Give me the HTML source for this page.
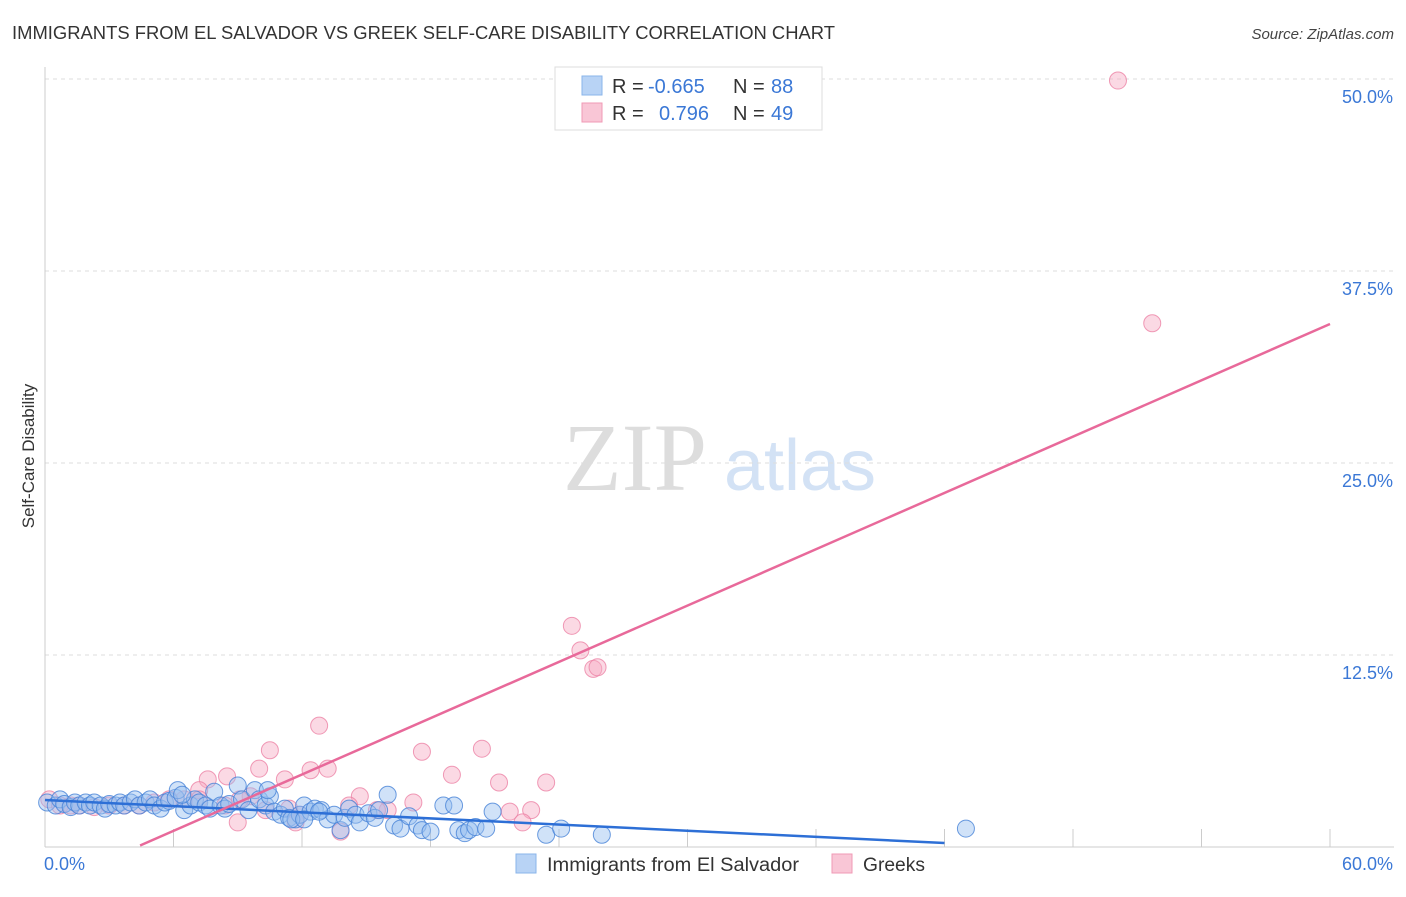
<!DOCTYPE html>
<html><head><meta charset="utf-8">
<style>
body{margin:0;background:#fff;font-family:"Liberation Sans",sans-serif;}
svg text{font-family:"Liberation Sans",sans-serif;}
</style></head>
<body>
<svg id="chart" width="1406" height="892" xmlns="http://www.w3.org/2000/svg">
<text x="12" y="39" font-size="18" fill="#333" textLength="823" lengthAdjust="spacingAndGlyphs">IMMIGRANTS FROM EL SALVADOR VS GREEK SELF-CARE DISABILITY CORRELATION CHART</text>
<text x="1394" y="39" font-size="15" fill="#444" font-style="italic" text-anchor="end">Source: ZipAtlas.com</text>
<g>
<text x="635" y="490" font-size="96" fill="#ddd" text-anchor="middle" style="font-family:'Liberation Serif',serif">ZIP</text>
<text x="800" y="490" font-size="72" fill="#d3e2f5" text-anchor="middle">atlas</text>
</g>
<g id="grid"></g>
<g id="axes"></g>
<g id="pts"></g>
<g id="lines"></g>
<text transform="translate(34,456) rotate(-90)" font-size="17" fill="#333" text-anchor="middle">Self-Care Disability</text>
<g>
<rect x="555" y="67" width="267" height="63" fill="#fff" stroke="#ddd"/>
<rect x="582" y="76" width="20" height="19" fill="#b8d3f5" stroke="#8ab4ea"/>
<rect x="582" y="103" width="20" height="19" fill="#f9c6d6" stroke="#f09ab5"/>
<text x="612" y="93" font-size="20" fill="#333">R =</text>
<text x="648" y="93" font-size="20" fill="#3b78d6">-0.665</text>
<text x="733" y="93" font-size="20" fill="#333">N =</text>
<text x="771" y="93" font-size="20" fill="#3b78d6">88</text>
<text x="612" y="120" font-size="20" fill="#333">R =</text>
<text x="659" y="120" font-size="20" fill="#3b78d6">0.796</text>
<text x="733" y="120" font-size="20" fill="#333">N =</text>
<text x="771" y="120" font-size="20" fill="#3b78d6">49</text>
</g>
<g>
<rect x="516" y="854" width="20" height="19" fill="#b8d3f5" stroke="#8ab4ea"/>
<text x="547" y="871" font-size="19" fill="#333" textLength="252" lengthAdjust="spacingAndGlyphs">Immigrants from El Salvador</text>
<rect x="832" y="854" width="20" height="19" fill="#f9c6d6" stroke="#f09ab5"/>
<text x="863" y="871" font-size="19" fill="#333" textLength="62" lengthAdjust="spacingAndGlyphs">Greeks</text>
</g>
</svg>
<script>
const xTicks=[0,6,12,18,24,30,36,42,48,54,60];
const yTicks=[12.5,25,37.5,50];
const yTickLabels=["12.5%","25.0%","37.5%","50.0%"];
const blueX=[0.1,0.5,0.7,0.9,1.2,1.4,1.6,1.9,2.1,2.3,2.6,2.8,3.0,3.3,3.5,3.7,4.0,4.2,4.4,4.7,4.9,5.1,5.4,5.6,5.8,6.1,6.2,6.5,6.8,7.0,7.2,7.5,7.7,7.9,8.2,8.4,8.6,9.0,9.2,9.5,9.8,10.0,10.3,10.5,10.7,11.0,11.2,11.4,11.7,11.9,12.1,12.4,12.6,12.9,13.2,13.5,13.8,14.0,14.2,14.5,14.7,15.1,15.4,15.6,16.0,16.3,16.6,17.0,17.4,17.6,18.0,18.6,19.1,19.3,19.6,19.8,20.1,20.6,20.9,23.4,24.1,26.0,43.0,11.5,12.8,12.1,6.4,10.4];
const blueY=[2.9,2.7,3.1,2.8,2.6,2.9,2.7,2.9,2.7,2.9,2.7,2.5,2.8,2.7,2.9,2.7,2.9,3.1,2.7,2.9,3.1,2.7,2.5,2.9,3.0,3.2,3.7,2.4,2.7,3.1,2.9,2.7,2.5,3.6,2.7,2.5,2.8,4.0,3.1,2.4,3.7,3.1,2.7,3.3,2.3,2.1,2.5,1.9,1.8,2.1,2.7,2.3,2.5,2.4,1.8,2.1,1.1,1.9,2.5,2.1,1.6,2.2,1.9,2.4,3.4,1.4,1.2,2.0,1.4,1.1,1.0,2.7,2.7,1.1,0.9,1.1,1.3,1.2,2.3,0.8,1.2,0.8,1.2,1.8,2.3,1.8,3.4,3.7];
const pinkX=[50.1,51.7,24.6,25.0,25.6,25.8,12.8,10.5,20.4,17.6,19.0,13.2,12.4,10.0,8.5,7.6,21.2,23.4,11.2,7.2,17.2,14.7,14.2,16.0,15.5,22.7,21.7,22.3,9.0,11.7,13.8,0.2,0.7,1.2,1.6,2.3,3.0,3.7,4.4,5.1,5.8,6.5,9.6,11.4,8.4,11.9,10.3,7.2,9.1];
const pinkY=[49.9,34.1,14.4,12.8,11.6,11.7,7.9,6.3,6.4,6.2,4.7,5.1,5.0,5.1,4.6,4.4,4.2,4.2,4.4,3.7,2.9,3.3,2.7,2.4,2.4,2.4,2.3,1.6,1.6,1.6,1.0,3.1,2.7,2.7,2.7,2.6,2.7,2.7,2.7,2.9,3.1,3.1,3.3,2.5,2.7,2.1,2.4,3.1,3.1];
const blueLine=[0,3.06,42,0.26];
const pinkLine=[4.44,0.1,60,34.05];
const NS="http://www.w3.org/2000/svg";
const X=v=>45+v/60*1285, Y=v=>847-v/12.5*192;
function mk(t,a,p){const e=document.createElementNS(NS,t);for(const k in a)e.setAttribute(k,a[k]);p.appendChild(e);return e;}
const grid=document.getElementById('grid'),axes=document.getElementById('axes'),pts=document.getElementById('pts'),lines=document.getElementById('lines');
yTicks.forEach((t,i)=>{
 const l=mk('line',{x1:45,x2:1394,y1:Y(t),y2:Y(t),stroke:'#ddd','stroke-dasharray':'4,4'},grid);
 
 
 const tx=mk('text',{x:1393,y:Y(t)+24,'font-size':18,fill:'#3b78d6','text-anchor':'end'},axes);
 tx.textContent=yTickLabels[i];
 
 
});
const ax=mk('line',{x1:45,x2:1394,y1:847,y2:847,stroke:'#ccc'},axes);


const ay=mk('line',{x1:45,x2:45,y1:67,y2:847,stroke:'#ccc'},axes);


xTicks.forEach(t=>{
 const l=mk('line',{x1:X(t),x2:X(t),y1:829,y2:847,stroke:'#ccc'},axes);
 
 
});
const x0=mk('text',{x:44,y:870,'font-size':18,fill:'#3b78d6'},axes);x0.textContent='0.0%';


const x1=mk('text',{x:1393,y:870,'font-size':18,fill:'#3b78d6','text-anchor':'end'},axes);x1.textContent='60.0%';


pinkX.forEach((v,i)=>{
 const c=mk('circle',{cx:X(v),cy:Y(pinkY[i]),r:8.5,fill:'rgba(246,170,195,0.45)',stroke:'rgba(236,130,165,0.8)','stroke-width':1},pts);
 
 
});
blueX.forEach((v,i)=>{
 const c=mk('circle',{cx:X(v),cy:Y(blueY[i]),r:8.5,fill:'rgba(150,190,240,0.45)',stroke:'rgba(70,130,215,0.8)','stroke-width':1},pts);
 
 
});
const bl=mk('line',{x1:X(blueLine[0]),y1:Y(blueLine[1]),x2:X(blueLine[2]),y2:Y(blueLine[3]),stroke:'#2d6fd6','stroke-width':2.5},lines);


const pl=mk('line',{x1:X(pinkLine[0]),y1:Y(pinkLine[1]),x2:X(pinkLine[2]),y2:Y(pinkLine[3]),stroke:'#e8699a','stroke-width':2.5},lines);


</script>
</body></html>
